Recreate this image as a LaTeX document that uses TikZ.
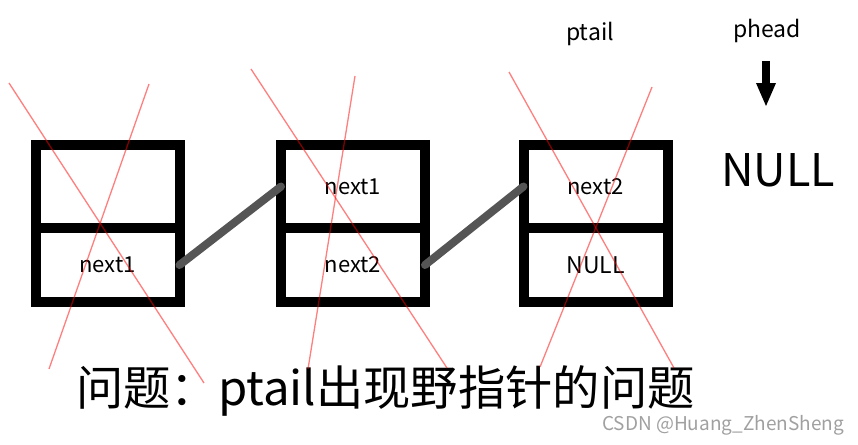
\documentclass[tikz,border=0pt]{standalone}
\usepackage{fontspec}
\newfontfamily\cjk{Noto Sans CJK SC}
\usetikzlibrary{arrows.meta}
\definecolor{linkgray}{HTML}{555555}
\definecolor{markgray}{HTML}{A0A0A0}
\tikzset{
  every picture/.style={x=1pt, y=-1pt, line join=round},
  cell/.style={draw, line width=10pt, line join=miter, minimum width=144pt, inner sep=0pt, outer sep=0pt, font=\cjk\fontsize{22}{26}\selectfont},
  topcell/.style={cell, minimum height=83pt},
  botcell/.style={cell, minimum height=74pt},
  link/.style={linkgray, line width=8pt, line cap=round},
  cross/.style={red, opacity=0.5, line width=1.3pt},
  label/.style={font=\cjk\fontsize{23}{27}\selectfont},
}

\begin{document}
\begin{tikzpicture}
\useasboundingbox (0,0) rectangle (858,444);
\node[topcell] (b1t) at (107.5,186.5) {};
\node[botcell] (b1b) at (107.5,265) {next1};
\node[topcell] (b2t) at (353,186.5) {next1};
\node[botcell] (b2b) at (353,265) {next2};
\node[topcell] (b3t) at (595.5,186.5) {next2};
\node[botcell,font=\cjk\fontsize{23}{27}\selectfont] (b3b) at (595.5,265) {NULL};
\draw[link] (b1b.east) -- (b2t.west);
\draw[link] (b2b.east) -- (b3t.west);
\node[label] (ptail) at (590,34) {ptail};
\node[label] (phead) at (767,31) {phead};
\node[font=\cjk\fontsize{45}{50}\selectfont] (null) at (778,170) {NULL};
\coordinate (ptop) at (766,61);
\coordinate (ptip) at (766,107);
\draw[line width=8pt,-{Triangle[width=18pt,length=24pt]}] (ptop) -- (ptip);
\node[font=\cjk\fontsize{47.3}{54}\selectfont] (title) at (385.5,391) {问题：ptail出现野指针的问题};
\node[font=\cjk\fontsize{19}{22}\selectfont,markgray] (mark) at (723,425) {CSDN @Huang\_ZhenSheng};
\draw[cross] (9,83) -- (204,383);
\draw[cross] (149,84) -- (49,369);
\draw[cross] (251,69) -- (447,368);
\draw[cross] (355,76) -- (308,369);
\draw[cross] (509,72) -- (674,368);
\draw[cross] (652,87) -- (540,367);
\end{tikzpicture}
\end{document}
